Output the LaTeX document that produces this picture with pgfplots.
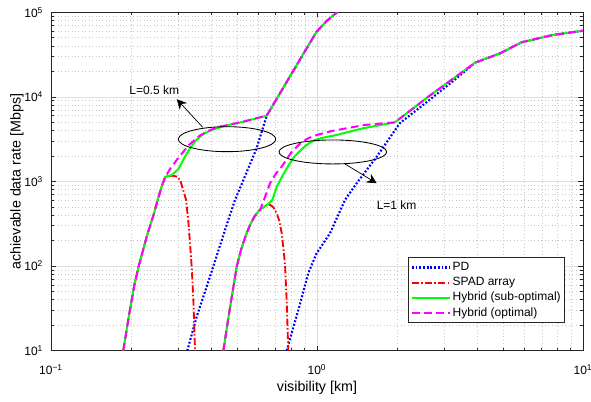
\documentclass[border=0pt]{standalone}
\usepackage{fontspec}
\setmainfont{Liberation Sans}
\usepackage{pgfplots}
\pgfplotsset{compat=1.18}
\usetikzlibrary{arrows.meta}
\definecolor{axgray}{gray}{0.15}
\definecolor{mag}{rgb}{1,0,1}
\definecolor{grn}{rgb}{0,1,0}
\definecolor{blu}{rgb}{0,0,1}
\definecolor{rd}{rgb}{1,0,0}
\begin{document}
\begin{tikzpicture}
\begin{loglogaxis}[
  at={(0,0)}, anchor=south west, scale only axis,
  width=372.4pt, height=236.9pt,
  xmin=0.1, xmax=10, ymin=10, ymax=100000,
  xtick={0.1,1,10},
  xticklabels={10\textsuperscript{−1},10\textsuperscript{0},10\textsuperscript{1}},
  ytick={10,100,1000,10000,100000},
  yticklabels={10\textsuperscript{1},10\textsuperscript{2},10\textsuperscript{3},10\textsuperscript{4},10\textsuperscript{5}},
  minor xtick={0.2,0.3,0.4,0.5,0.6,0.7,0.8,0.9,2,3,4,5,6,7,8,9},
  minor ytick={20,30,40,50,60,70,80,90,200,300,400,500,600,700,800,900,2000,3000,4000,5000,6000,7000,8000,9000,20000,30000,40000,50000,60000,70000,80000,90000},
  grid=both,
  major grid style={black!13, line width=0.4pt},
  minor grid style={black!22, dotted, line width=0.4pt},
  tick align=inside,
  major tick length=3.5pt, minor tick length=2pt,
  tick style={axgray, line width=0.5pt},
  axis line style={axgray, line width=0.6pt},
  ticklabel style={font=\fontsize{8.4}{10}\selectfont},
  xticklabel style={anchor=base, yshift=-17pt},
  yticklabel style={xshift=-2pt},
  xlabel={visibility [km]},
  ylabel={achievable data rate [Mbps]},
  label style={font=\fontsize{10}{12}\selectfont},
  xlabel style={at={(axis description cs:0.5,-0.122)}, anchor=base},
  ylabel style={at={(axis description cs:-0.0569,0.5)}, anchor=base},
  legend style={
    at={(rel axis cs:0.966,0.0819)}, anchor=south east,
    font=\fontsize{8.4}{10}\selectfont,
    draw=axgray, line width=0.5pt,
    inner xsep=1.5pt, inner ysep=1.5pt,
    row sep=0pt,
    nodes={inner sep=1.2pt, text height=6.3pt, text depth=1.9pt},
  },
  legend cell align=left,
  legend image code/.code={\draw[#1] (0pt,0pt) -- (26.6pt,0pt);},
]
% ---------- L = 0.5 km ----------
\addplot[blu, line width=1.5pt, dash pattern=on 1.3pt off 1.3pt] coordinates {
(0.3253,10) (0.353,25.2) (0.396,75) (0.464,351) (0.492,605) (0.55,1400) (0.593,2466)
(0.647,5995) (0.726,11040) (0.86,27100) (0.997,59000) (1.088,79000) (1.19,100000)};
\addlegendentry{PD}
\addplot[rd, line width=1.3pt, dash pattern=on 5pt off 1.6pt on 1pt off 1.6pt] coordinates {
(0.187,10) (0.1972,28.2) (0.2065,63) (0.2138,100) (0.2291,224) (0.2427,398) (0.2518,603)
(0.26,851) (0.2685,1130) (0.276,1160) (0.288,1168) (0.298,1140) (0.306,1040) (0.314,795)
(0.322,605) (0.328,351) (0.333,190) (0.338,98) (0.343,40) (0.348,10)};
\addlegendentry{SPAD array}
\addplot[grn, line width=1.4pt] coordinates {
(0.187,10) (0.1972,28.2) (0.2065,63) (0.2138,100) (0.2291,224) (0.2427,398) (0.2518,603)
(0.26,851) (0.2685,1130) (0.284,1190) (0.301,1393) (0.317,1900) (0.333,2466) (0.352,3100)
(0.374,3650) (0.40,4050) (0.432,4375) (0.48,4750) (0.528,5090) (0.647,5995) (0.726,11040) (0.86,27100)
(0.997,59000) (1.088,79000) (1.19,100000)};
\addlegendentry{Hybrid (sub-optimal)}
\addplot[mag, line width=1.4pt, dash pattern=on 5.5pt off 3pt] coordinates {
(0.187,10) (0.1972,28.2) (0.2065,63) (0.2138,100) (0.2291,224) (0.2427,398) (0.2518,603)
(0.26,851) (0.2685,1110) (0.28,1400) (0.297,1800) (0.33,2700) (0.363,3500)
(0.4,4100) (0.432,4450) (0.48,4780) (0.528,5090) (0.647,5995) (0.726,11040) (0.86,27100)
(0.997,59000) (1.088,79000) (1.19,100000)};
\addlegendentry{Hybrid (optimal)}
% ---------- L = 1 km ----------
\addplot[forget plot, blu, line width=1.5pt, dash pattern=on 1.3pt off 1.3pt] coordinates {
(0.769,10) (0.851,30.3) (0.927,82) (0.997,142) (1.119,244) (1.274,605) (1.41,953)
(1.677,1963) (2.05,4900) (2.66,9300) (3.3,16000) (3.93,25350) (4.88,32700)
(5.88,44200) (7.73,54000) (10,60500)};
\addplot[forget plot, rd, line width=1.3pt, dash pattern=on 5pt off 1.6pt on 1pt off 1.6pt] coordinates {
(0.4446,10) (0.4624,22.4) (0.4808,47.9) (0.499,98) (0.5188,158) (0.5395,229) (0.56,306)
(0.5821,385) (0.6026,447) (0.62,482) (0.64,515) (0.655,530) (0.67,525) (0.685,495)
(0.706,421) (0.722,340) (0.737,244) (0.75,150) (0.759,98) (0.769,39.7) (0.78,10)};
\addplot[forget plot, grn, line width=1.4pt] coordinates {
(0.4446,10) (0.4624,22.4) (0.4808,47.9) (0.499,98) (0.5188,158) (0.5395,229) (0.56,306)
(0.5821,385) (0.6026,447) (0.62,482) (0.64,515) (0.656,540) (0.68,605) (0.706,868)
(0.74,1150) (0.775,1480) (0.82,1950) (0.863,2300) (0.901,2600) (0.94,2870) (0.983,3097)
(1.05,3280) (1.186,3550) (1.493,4257)
(1.964,5000) (2.66,10400) (3.93,25350) (4.88,32700) (5.88,44200) (7.73,54000) (10,60500)};
\addplot[forget plot, mag, line width=1.4pt, dash pattern=on 5.5pt off 3pt] coordinates {
(0.4446,10) (0.4624,22.4) (0.4808,47.9) (0.499,98) (0.5188,158) (0.5395,229) (0.56,306)
(0.5821,385) (0.611,460) (0.636,640) (0.666,953) (0.70,1230) (0.737,1500) (0.80,2200)
(0.863,2800) (0.927,3245) (1.0,3550) (1.136,3950) (1.515,4660) (1.964,5000)
(2.66,10400) (3.93,25350) (4.88,32700) (5.88,44200) (7.73,54000) (10,60500)};
% ---------- annotations ----------
\draw[black, line width=0.6pt] (axis cs:0.459,3162) ellipse [x radius=34.1pt, y radius=8.75pt];
\draw[black, line width=0.6pt] (axis cs:1.147,2234) ellipse [x radius=37.7pt, y radius=8.4pt];
\draw[black, line width=0.5pt, -{Stealth[length=7pt, width=7pt, inset=2.5pt]}] (axis cs:0.3718,4375) -- (axis cs:0.297,9380);
\draw[black, line width=0.5pt, -{Stealth[length=7pt, width=7pt, inset=2.5pt]}] (axis cs:1.274,1611) -- (axis cs:1.677,953);
\node[font=\fontsize{8.4}{10}\selectfont, inner sep=0pt] at (axis cs:0.2443,12080) {L=0.5 km};
\node[font=\fontsize{8.4}{10}\selectfont, inner sep=0pt] at (axis cs:1.993,527) {L=1 km};
\end{loglogaxis}
\pgfresetboundingbox
\useasboundingbox (-35.7pt,-35.21pt) rectangle (378pt,245.49pt);
\end{tikzpicture}
\end{document}
